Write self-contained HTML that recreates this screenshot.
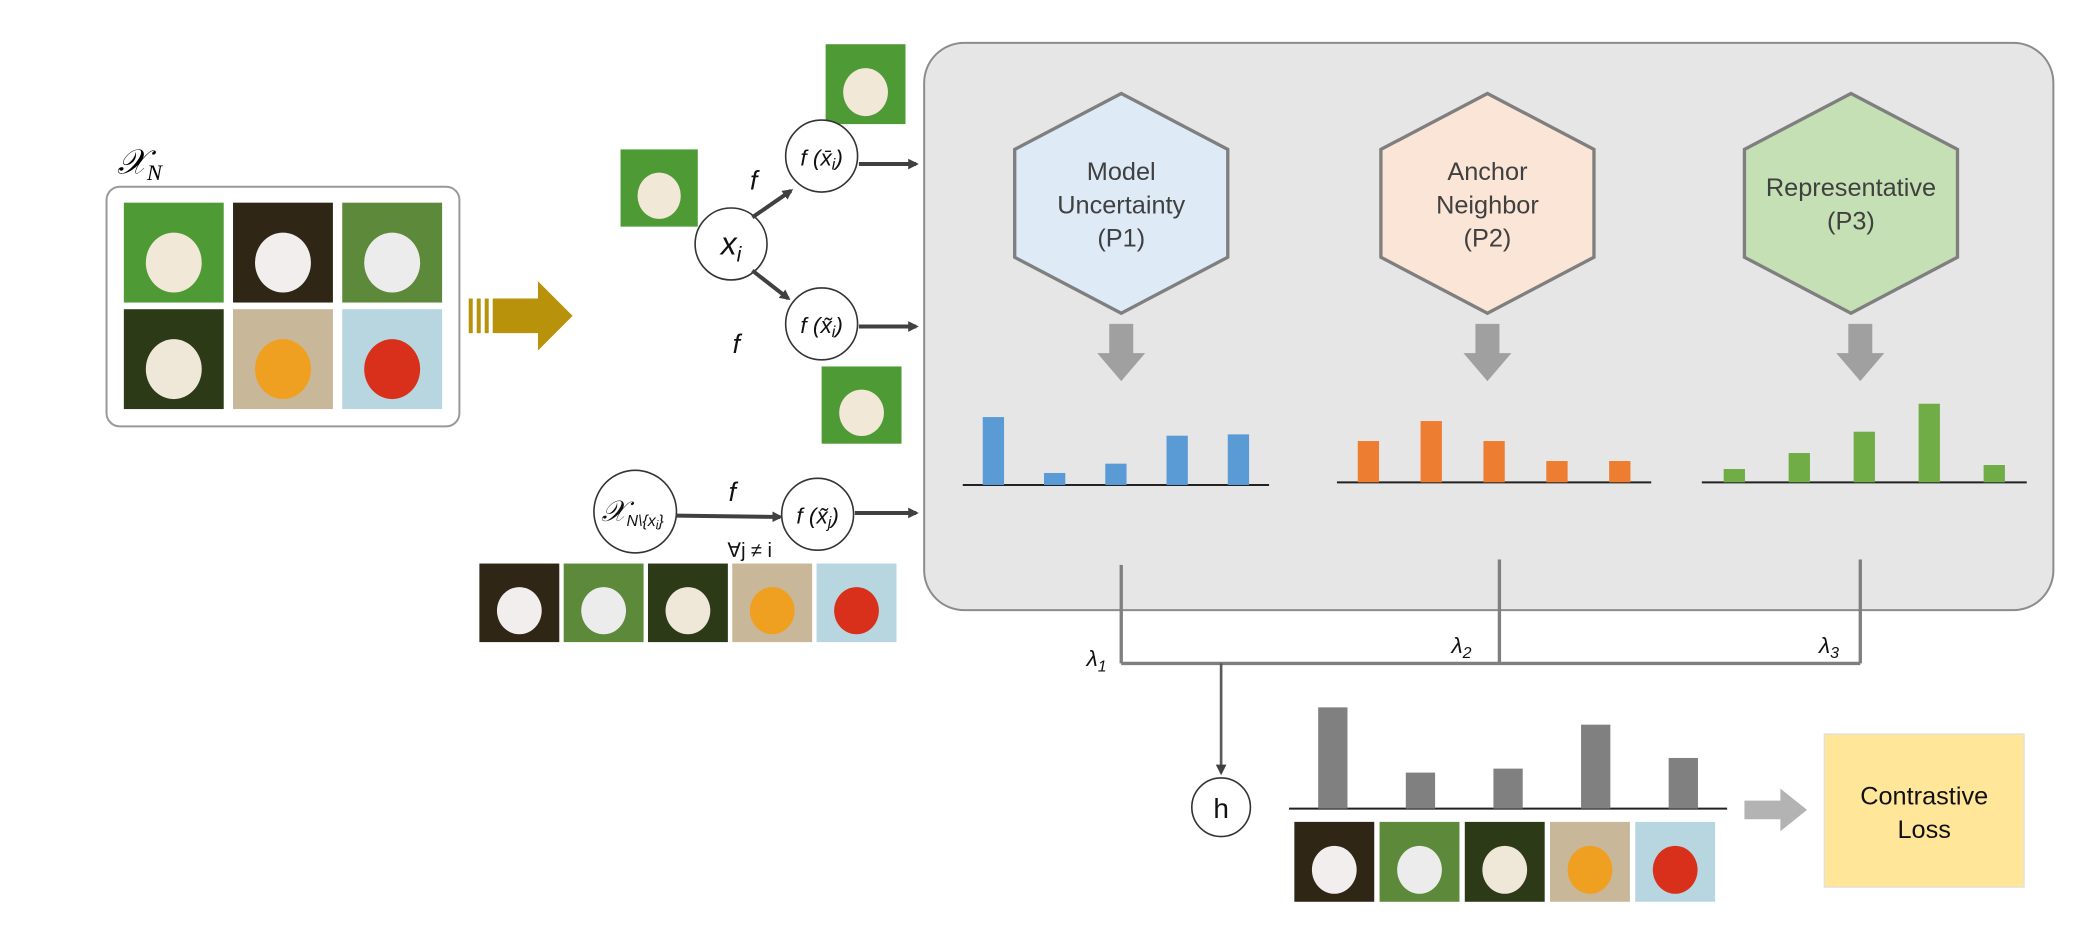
<!DOCTYPE html>
<html><head><meta charset="utf-8"><style>
html,body{margin:0;padding:0;background:#fff;}
svg{display:block;}
text{font-family:"Liberation Sans","DejaVu Sans",sans-serif;}
.m{font-family:"Liberation Serif","DejaVu Serif",serif;font-style:italic;}
</style></head><body>
<svg id="fig" width="2088" height="934" viewBox="0 0 1568 701" xmlns="http://www.w3.org/2000/svg">
<defs>
<marker id="ah" markerWidth="8" markerHeight="8" refX="6" refY="4" orient="auto" markerUnits="userSpaceOnUse"><path d="M0,0 L8,4 L0,8 z" fill="#404040"/></marker>
</defs>
<g id="imgs"></g>
<!-- XN box -->
<text x="88" y="130" class="m" font-size="26">𝒳<tspan font-size="17" dy="5">N</tspan></text>
<rect x="80" y="140" width="265" height="180" rx="10" fill="none" stroke="#999" stroke-width="1.5"/>
<!-- gold arrow -->
<g fill="#b8920a">
<rect x="352" y="224" width="3" height="26"/><rect x="358" y="224" width="3" height="26"/><rect x="364" y="224" width="3" height="26"/>
<path d="M370,224 L404,224 L404,211 L430,237 L404,263 L404,250 L370,250 z"/>
</g>
<!-- circles -->
<g fill="#fff" stroke="#333" stroke-width="1.2">
<circle cx="549" cy="183" r="27"/>
<circle cx="617" cy="117" r="27"/>
<circle cx="617" cy="243" r="27"/>
<circle cx="477" cy="384" r="31"/>
<circle cx="614" cy="386" r="27"/>
<circle cx="917" cy="606" r="22"/>
</g>
<g class="m" font-size="20" text-anchor="middle" fill="#111">
<text x="549" y="191" font-size="24">x<tspan font-size="16" dy="5">i</tspan></text>
<text x="617" y="124" font-size="17">f (x̄<tspan font-size="12" dy="3">i</tspan><tspan dy="-3">)</tspan></text>
<text x="617" y="250" font-size="17">f (x̃<tspan font-size="12" dy="3">i</tspan><tspan dy="-3">)</tspan></text>
<text x="614" y="393" font-size="17">f (x̃<tspan font-size="12" dy="3">j</tspan><tspan dy="-3">)</tspan></text>
<text x="475" y="391" font-size="22">𝒳<tspan font-size="12" dy="4">N\{x</tspan><tspan font-size="9" dy="2">i</tspan><tspan font-size="12" dy="-2">}</tspan></text>
<text x="566" y="142">f</text><text x="553" y="265">f</text><text x="550" y="376">f</text>
<text x="563" y="418" font-size="15" font-style="normal">∀j ≠ i</text>
<text x="917" y="614" font-style="normal" font-family="Liberation Sans" font-size="21">h</text>
</g>
<g stroke="#404040" stroke-width="3" marker-end="url(#ah)">
<line x1="565" y1="163" x2="594" y2="143"/>
<line x1="565" y1="203" x2="592" y2="224"/>
<line x1="645" y1="123" x2="688" y2="123"/>
<line x1="645" y1="245" x2="688" y2="245"/>
<line x1="508" y1="387" x2="586" y2="388"/>
<line x1="642" y1="385" x2="688" y2="385"/>
</g>
<!-- panel -->
<rect x="694" y="32" width="848" height="426" rx="30" fill="#e6e6e6" stroke="#8c8c8c" stroke-width="1.5"/>
<g stroke="#7f7f7f" stroke-width="2.5">
<path d="M842,70 L922,112 L922,193 L842,235 L762,193 L762,112 z" fill="#deebf7"/>
<path d="M1117,70 L1197,112 L1197,193 L1117,235 L1037,193 L1037,112 z" fill="#fbe5d6"/>
<path d="M1390,70 L1470,112 L1470,193 L1390,235 L1310,193 L1310,112 z" fill="#c5e0b4"/>
</g>
<g font-size="19" fill="#404040" text-anchor="middle">
<text x="842" y="135">Model</text><text x="842" y="160">Uncertainty</text><text x="842" y="185">(P1)</text>
<text x="1117" y="135">Anchor</text><text x="1117" y="160">Neighbor</text><text x="1117" y="185">(P2)</text>
<text x="1390" y="147">Representative</text><text x="1390" y="172">(P3)</text>
</g>
<g fill="#a0a0a0">
<path d="M833,243 L851,243 L851,265 L860,265 L842,286 L824,265 L833,265 z"/>
<path d="M1108,243 L1126,243 L1126,265 L1135,265 L1117,286 L1099,265 L1108,265 z"/>
<path d="M1388,243 L1406,243 L1406,265 L1415,265 L1397,286 L1379,265 L1388,265 z"/>
</g>
<g id="bars"></g>
<!-- combine lines -->
<g stroke="#7f7f7f" stroke-width="2.5" fill="none">
<line x1="842" y1="424" x2="842" y2="498"/>
<line x1="1126" y1="420" x2="1126" y2="498"/>
<line x1="1397" y1="420" x2="1397" y2="498"/>
<line x1="842" y1="498" x2="1397" y2="498"/>
</g>
<line x1="917" y1="498" x2="917" y2="580" stroke="#595959" stroke-width="2" marker-end="url(#ah)"/>
<g class="m" font-size="17" fill="#111">
<text x="816" y="500">λ<tspan font-size="12" dy="4">1</tspan></text>
<text x="1090" y="490">λ<tspan font-size="12" dy="4">2</tspan></text>
<text x="1366" y="490">λ<tspan font-size="12" dy="4">3</tspan></text>
</g>
<path d="M1310,601 L1337,601 L1337,592 L1357,608 L1337,624 L1337,615 L1310,615 z" fill="#b3b3b3"/>
<rect x="1370" y="551" width="150" height="115" fill="#ffe699" stroke="#e0e0e0"/>
<text x="1445" y="604" font-size="19" text-anchor="middle" fill="#111">Contrastive</text>
<text x="1445" y="629" font-size="19" text-anchor="middle" fill="#111">Loss</text>
</svg>
<script>
const categories = ["cat","dog","teddy","goldfish","redfish"];
const p1Values = [51, 9, 16, 37, 38];
const p2Values = [31, 46, 31, 16, 16];
const p3Values = [10, 22, 38, 59, 13];
const hValues = [76, 27, 30, 63, 38];
const NS="http://www.w3.org/2000/svg";
const bars=document.getElementById('bars');
const imgs=document.getElementById('imgs');
const imgCol={cat:["#2f2616","#f2eeee"],dog:["#5d8a3a","#ececec"],teddy:["#2c3a18","#efe8d8"],goldfish:["#c9b79a","#f0a020"],redfish:["#b8d6df","#d8301a"],golden:["#4e9a34","#f2e8d8"]};
function thumb(x,y,w,h,k,name){
  const g=document.createElementNS(NS,'g');
  
  
  const r=document.createElementNS(NS,'rect');
  r.setAttribute('x',x);r.setAttribute('y',y);r.setAttribute('width',w);r.setAttribute('height',h);r.setAttribute('fill',imgCol[k][0]);
  g.appendChild(r);
  const e=document.createElementNS(NS,'ellipse');
  e.setAttribute('cx',x+w*0.5);e.setAttribute('cy',y+h*0.6);e.setAttribute('rx',w*0.28);e.setAttribute('ry',h*0.3);e.setAttribute('fill',imgCol[k][1]);
  g.appendChild(e);
  imgs.appendChild(g);
}
function chart(vals,x0,x1,base,scale,bw,color,name,imgX,imgY,imgW,imgH,gap){
  const n=vals.length;
  const step=(x1-x0)/n;
  const ax=document.createElementNS(NS,'line');
  ax.setAttribute('x1',x0);ax.setAttribute('x2',x1);ax.setAttribute('y1',base);ax.setAttribute('y2',base);
  ax.setAttribute('stroke','#222');ax.setAttribute('stroke-width','1.5');
  
  
  bars.appendChild(ax);
  vals.forEach((v,i)=>{
    const cx=x0+step*(i+0.5);
    const h=v*scale;
    const r=document.createElementNS(NS,'rect');
    r.setAttribute('x',cx-bw/2);r.setAttribute('y',base-h);r.setAttribute('width',bw);r.setAttribute('height',h);r.setAttribute('fill',color);
    
    
    bars.appendChild(r);
    thumb(imgX+i*(imgW+gap),imgY,imgW,imgH,categories[i],name+'-thumb-'+categories[i]);
  });
}
// static thumbnails
const gridKeys=[["golden","cat","dog"],["teddy","goldfish","redfish"]];
gridKeys.forEach((row,ri)=>row.forEach((k,ci)=>thumb(93+ci*82,152+ri*80,75,75,k,'dataset-thumb-'+k)));
thumb(466,112,58,58,'golden','anchor-image');
thumb(620,33,60,60,'golden','augmented-image-top');
thumb(617,275,60,58,'golden','augmented-image-bottom');
categories.forEach((k,i)=>thumb(360+i*63.3,423,60,59,k,'negative-thumb-'+k));
chart(p1Values,723,953,364,1,16,'#5b9bd5','p1',724,372,45,46,4);
chart(p2Values,1004,1240,362,1,16,'#ed7d31','p2',1006,368,45,46,4);
chart(p3Values,1278,1522,362,1,16,'#70ad47','p3',1280,368,45,46,4);
chart(hValues,968,1297,607,1,22,'#808080','h',972,617,60,60,4);
</script>
</body></html>
